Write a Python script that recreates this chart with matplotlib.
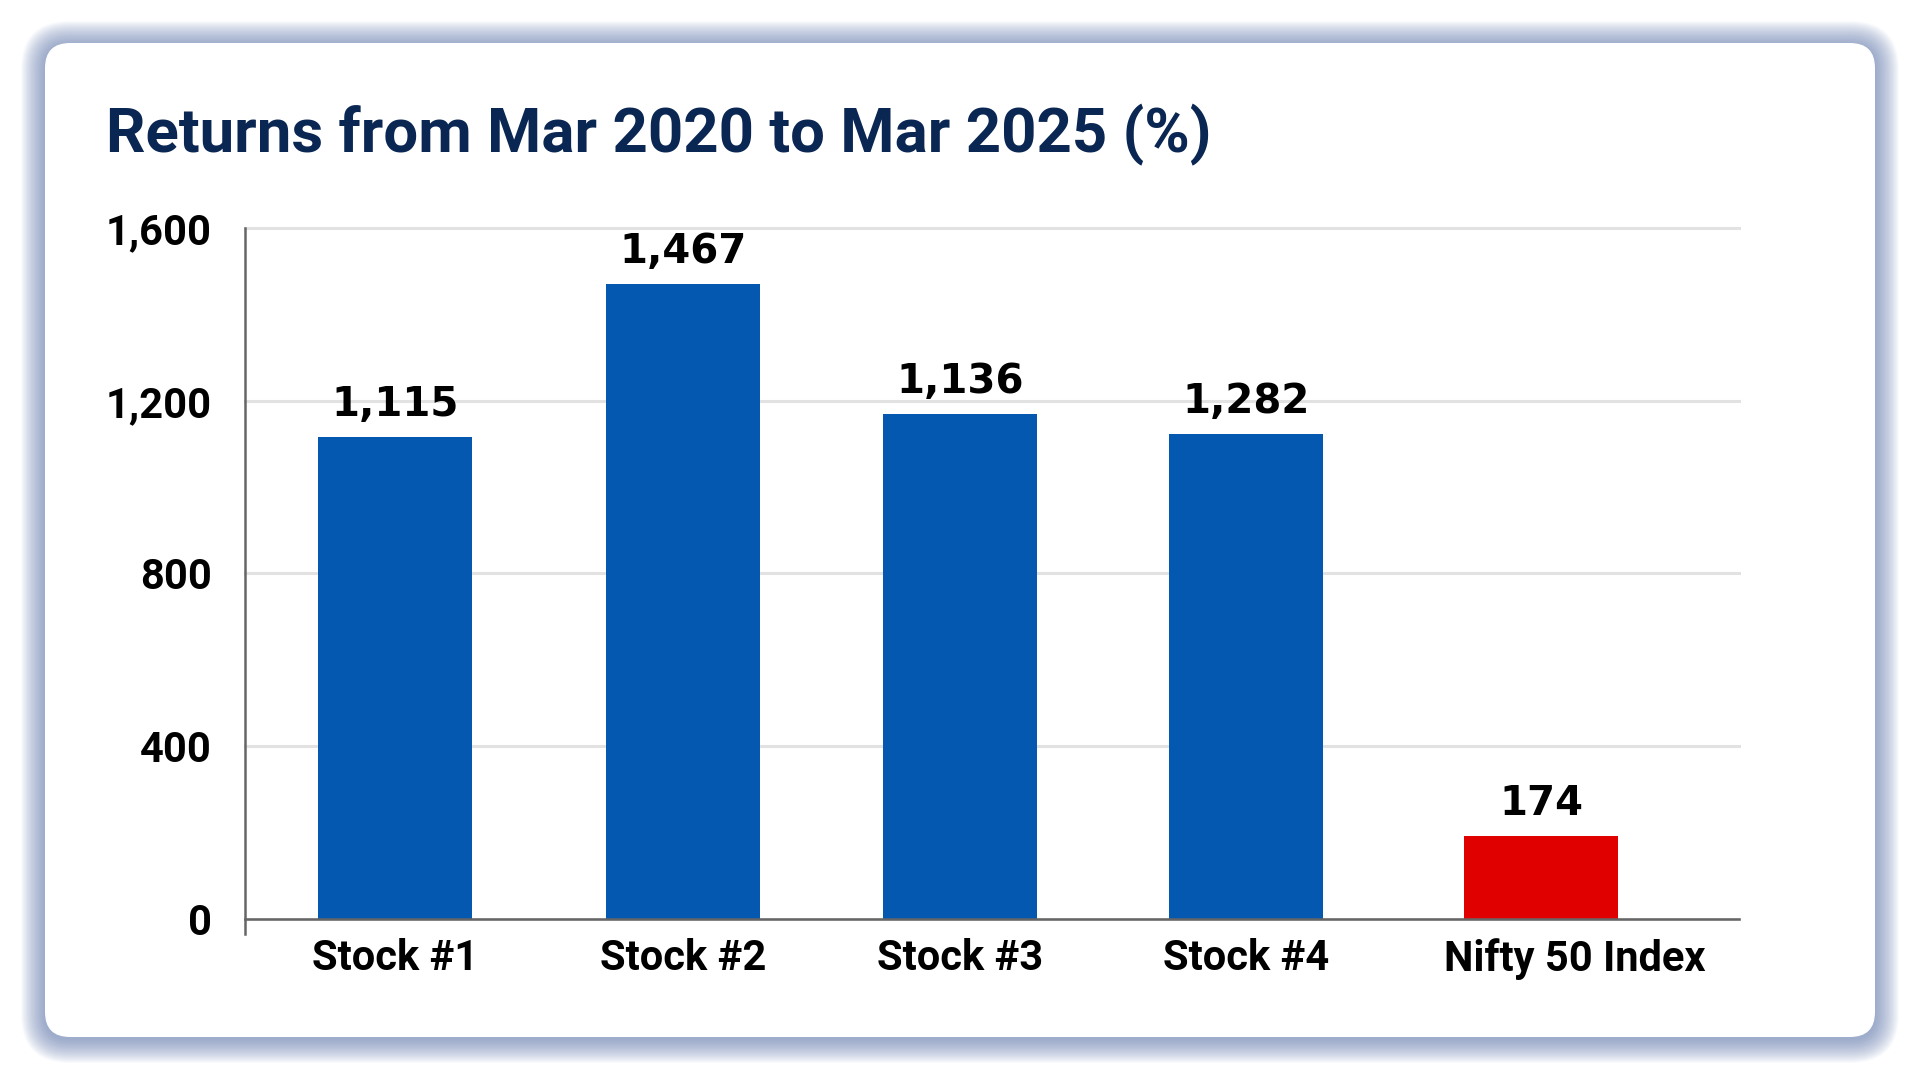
"""
Returns chart: four stocks vs Nifty 50, Mar 2020 - Mar 2025.
"""

import matplotlib
matplotlib.use("Agg")
import matplotlib.pyplot as plt
from matplotlib.patches import FancyBboxPatch
from matplotlib.transforms import IdentityTransform, ScaledTranslation

# data (bar heights, labels as printed)
categories = ["Stock #1", "Stock #2", "Stock #3", "Stock #4", "Nifty 50 Index"]
bar_values = [1116, 1471, 1169, 1123, 191]
bar_labels = ["1,115", "1,467", "1,136", "1,282", "174"]
bar_colors = ["#0558b0", "#0558b0", "#0558b0", "#0558b0", "#e00000"]
y_ticks = [0, 400, 800, 1200, 1600]
y_tick_labels = ["0", "400", "800", "1,200", "1,600"]
title = "Returns from Mar 2020 to Mar 2025 (%)"

# slot centres (the original spacing is slightly uneven)
x_pos = [0, 1.005, 1.972, 2.97, 4.0]

plt.rcParams["font.family"] = ["Roboto", "DejaVu Sans"]

W, H = 1920, 1080
fig = plt.figure(figsize=(W / 100, H / 100), dpi=100)
fig.patch.set_facecolor("white")


def card_patch(x0, y0, x1, y1, r, **kw):
    # rounded box in pixels, top-left origin
    return FancyBboxPatch(
        (x0, H - y1), x1 - x0, y1 - y0,
        boxstyle=f"round,pad=0,rounding_size={r}",
        transform=IdentityTransform(), edgecolor="none", **kw)


# card with soft blue shadow
cx0, cy0, cx1, cy1 = 45, 43, 1875, 1037
for d in range(24, 0, -1):
    fig.patches.append(card_patch(cx0 - d, cy0 - d + 2, cx1 + d, cy1 + d + 2,
                                  25 + d, facecolor="#6f86b8", alpha=0.04,
                                  zorder=-3))
fig.patches.append(card_patch(cx0, cy0, cx1, cy1, 25, facecolor="white",
                              zorder=-2))

# title
fig.text(106 / W, 1 - 152 / H, title, fontsize=44.5, fontweight="bold",
         color="#0a2652", ha="left", va="baseline")

# axes
ax = fig.add_axes([245 / W, 146.4 / H, 1494 / W, 0.6530])
ax.set_facecolor("none")
bars = ax.bar(x_pos, bar_values, width=0.5375, color=bar_colors, zorder=3)

for rect, lab in zip(bars, bar_labels):
    ax.annotate(lab, (rect.get_x() + rect.get_width() / 2, rect.get_height()),
                xytext=(0, 15), textcoords="offset points",
                ha="center", va="baseline", fontsize=29, fontweight="bold",
                family=["DejaVu Sans"], color="black", zorder=4)

ax.set_xlim(-0.5236, 4.691)
ax.set_ylim(-35, 1600)
ax.set_yticks(y_ticks)
ax.set_yticklabels(y_tick_labels)
ax.set_xticks(x_pos)
ax.set_xticklabels(categories)

for sp in ["top", "right"]:
    ax.spines[sp].set_visible(False)
ax.spines["bottom"].set_position(("data", 0))
for sp in ["left", "bottom"]:
    ax.spines[sp].set_color("#666666")
    ax.spines[sp].set_linewidth(1.8)
    ax.spines[sp].set_zorder(5)

ax.yaxis.grid(True, color="#e2e2e2", linewidth=2.2, zorder=0)
ax.set_axisbelow(True)
for gl in ax.get_ygridlines():
    gl.set_clip_on(False)

ax.tick_params(axis="both", length=0, labelsize=30, labelcolor="black")
ax.tick_params(axis="y", pad=24)
ax.tick_params(axis="x", pad=14)
for lab in ax.get_xticklabels() + ax.get_yticklabels():
    lab.set_fontweight("bold")

# last category label sits a bit right of its bar in the original
last = ax.get_xticklabels()[-1]
last.set_transform(last.get_transform() + ScaledTranslation(0.34, 0, fig.dpi_scale_trans))

plt.savefig("out.png", dpi=100, facecolor="white")
plt.close()
